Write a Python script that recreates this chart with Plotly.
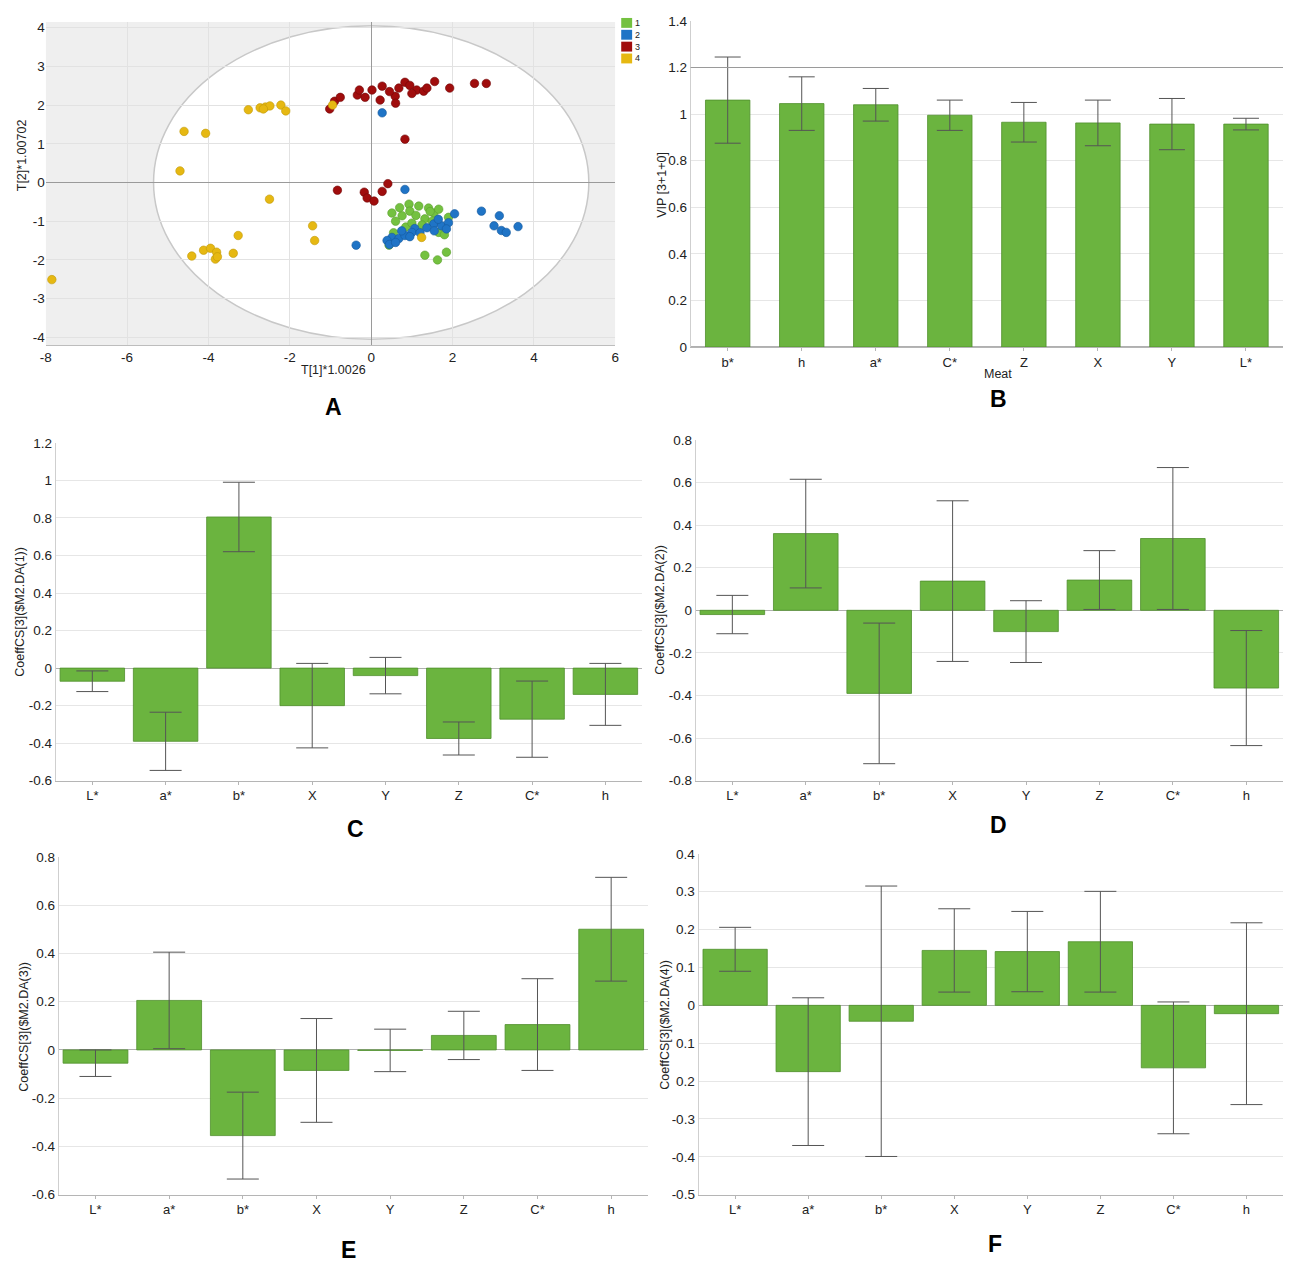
import plotly.graph_objects as go

W, H = 1295, 1271
OFF = 8            # browser body margin
FW, FH = W - 2 * OFF, H - 2 * OFF

# ---------------- Panel A data (score scatter) ----------------
g1_x = [0.51, 0.93, 0.95, 0.76, 1.41, 1.54, 1.66, 1.32, 1.17, 1.66, 1.32, 1.63, 1.85, 0.44, 0.6, 1.1, 1.25, 0.85, 1.5, 1.9, 1.8, 0.55, 0.7, 1.0, 1.45]
g1_y = [-0.79, -0.56, -0.74, -0.86, -0.66, -0.79, -0.69, -0.94, -0.61, -1.29, -1.88, -2.0, -1.8, -1.62, -1.0, -0.85, -1.1, -1.15, -1.0, -0.9, -1.35, -1.3, -0.65, -1.05, -0.75]
g2_x = [0.27, 0.83, -0.37, 0.51, 0.68, 0.83, 1.07, 1.54, 1.73, 1.9, 2.05, 2.71, 3.15, 3.02, 3.2, 3.32, 3.61, 0.39, 0.45, 1.0, 1.37, 0.6, 0.95, 1.2, 1.65, 1.85, 0.75, 1.55]
g2_y = [1.8, -0.18, -1.62, -1.42, -1.45, -1.37, -1.19, -1.07, -1.12, -1.04, -0.81, -0.74, -0.86, -1.12, -1.24, -1.29, -1.14, -1.5, -1.6, -1.29, -1.17, -1.55, -1.4, -1.3, -0.95, -1.2, -1.25, -1.25]
g3_x = [-1.02, -0.9, -0.76, -0.34, -0.29, 0.02, 0.27, 0.22, 0.59, 0.68, 0.83, 0.95, 1.12, 1.29, 1.37, 1.56, 1.93, 2.54, 2.83, 0.83, -0.83, -0.17, -0.1, 0.07, 0.27, 0.41, 0.6, 1.0, -0.15, 0.45]
g3_y = [1.9, 2.1, 2.2, 2.26, 2.39, 2.39, 2.49, 2.13, 2.23, 2.44, 2.59, 2.51, 2.39, 2.36, 2.44, 2.61, 2.44, 2.56, 2.56, 1.12, -0.2, -0.25, -0.4, -0.48, -0.23, -0.03, 2.05, 2.3, 2.2, 2.35]
g4_x = [-3.02, -2.73, -2.6, -2.49, -2.22, -2.1, -2.65, -4.6, -4.07, -4.7, -2.5, -1.44, -1.39, -3.27, -3.39, -4.41, -4.12, -3.95, -3.8, -3.83, -3.78, -7.85, -0.95, 1.24]
g4_y = [1.88, 1.93, 1.95, 1.98, 2.0, 1.85, 1.9, 1.32, 1.27, 0.3, -0.43, -1.12, -1.5, -1.37, -1.83, -1.9, -1.75, -1.7, -1.8, -1.98, -1.92, -2.51, 2.0, -1.42]
group_names = ["1", "2", "3", "4"]
ellipse_a, ellipse_b = 5.35, 4.05

# ---------------- Panel B data (VIP) ----------------
vip_cats = ["b*", "h", "a*", "C*", "Z", "X", "Y", "L*"]
vip_vals = [1.06, 1.045, 1.04, 0.995, 0.965, 0.962, 0.957, 0.957]
vip_err = [0.185, 0.115, 0.07, 0.065, 0.085, 0.098, 0.11, 0.025]

# ---------------- Panels C-F data (coefficients) ----------------
coef_cats = ["L*", "a*", "b*", "X", "Y", "Z", "C*", "h"]
c_vals = [-0.07, -0.39, 0.805, -0.2, -0.04, -0.375, -0.272, -0.14]
c_err = [0.055, 0.155, 0.185, 0.225, 0.097, 0.088, 0.203, 0.165]
d_vals = [-0.02, 0.36, -0.39, 0.137, -0.1, 0.142, 0.337, -0.365]
d_err = [0.09, 0.255, 0.33, 0.377, 0.145, 0.138, 0.333, 0.27]
e_vals = [-0.055, 0.205, -0.355, -0.085, -0.002, 0.06, 0.105, 0.5]
e_err = [0.055, 0.2, 0.18, 0.215, 0.088, 0.1, 0.19, 0.215]
f_vals = [0.148, -0.175, -0.042, 0.145, 0.142, 0.168, -0.165, -0.022]
f_err = [0.058, 0.195, 0.357, 0.11, 0.106, 0.133, 0.174, 0.24]

# tick labels
a_xticks = [-8, -6, -4, -2, 0, 2, 4, 6]
a_yticks = [-4, -3, -2, -1, 0, 1, 2, 3, 4]
b_yticks = [0, 0.2, 0.4, 0.6, 0.8, 1, 1.2, 1.4]
c_yticks = [-0.6, -0.4, -0.2, 0, 0.2, 0.4, 0.6, 0.8, 1, 1.2]
d_yticks = [-0.8, -0.6, -0.4, -0.2, 0, 0.2, 0.4, 0.6, 0.8]
e_yticks = [-0.6, -0.4, -0.2, 0, 0.2, 0.4, 0.6, 0.8]
f_yticks = [-0.5, -0.4, -0.3, -0.2, -0.1, 0, 0.1, 0.2, 0.3, 0.4]
f_yticktext = ["-0.5", "-0.4", "-0.3", "0.2", "0.1", "0", "0.1", "0.2", "0.3", "0.4"]

FONT = "Liberation Sans, Arial, sans-serif"
GREEN = "#6bb43f"
GREEN_EDGE = "#4f8f2c"
grp_colors = ["#74c140", "#1f74c6", "#a00d0d", "#e6b812"]
grp_edges = ["#5a9e2e", "#16599c", "#700808", "#c19a0c"]


def fx(p):
    return min(max((p - OFF) / FW, 0), 1)


def fy(p):
    return min(max(1 - (p - OFF) / FH, 0), 1)


def fmt(v):
    return "%g" % v


fig = go.Figure()

# Panel A scatter
for gx, gy, name, col, edge in zip([g1_x, g2_x, g3_x, g4_x], [g1_y, g2_y, g3_y, g4_y],
                                   group_names, grp_colors, grp_edges):
    fig.add_trace(go.Scatter(x=gx, y=gy, mode="markers", name=name, showlegend=False,
                             marker=dict(size=8.5, color=col, line=dict(color=edge, width=0.6)),
                             xaxis="x", yaxis="y"))

# Panel B bars
fig.add_trace(go.Bar(x=vip_cats, y=vip_vals, width=0.6, showlegend=False,
                     marker=dict(color=GREEN, line=dict(color=GREEN_EDGE, width=0.8)),
                     error_y=dict(type="data", array=vip_err, color="#555555", thickness=1, width=13),
                     xaxis="x2", yaxis="y2"))

panel_sets = [(c_vals, c_err, "x3", "y3"), (d_vals, d_err, "x4", "y4"),
              (e_vals, e_err, "x5", "y5"), (f_vals, f_err, "x6", "y6")]
for vals, errs, xa, ya in panel_sets:
    fig.add_trace(go.Bar(x=coef_cats, y=vals, width=0.88, showlegend=False,
                         marker=dict(color=GREEN, line=dict(color=GREEN_EDGE, width=0.8)),
                         error_y=dict(type="data", array=errs, color="#555555", thickness=1, width=16),
                         xaxis=xa, yaxis=ya))

tickfont = dict(family=FONT, size=13.5, color="#222222")
xtickfont = dict(family=FONT, size=13, color="#222222")

layout = dict(
    width=FW, height=FH, margin=dict(l=0, r=0, t=0, b=0),
    paper_bgcolor="white", plot_bgcolor="white",
    font=dict(family=FONT, size=12, color="#222222"),
    bargap=0.12,
)

# Panel A axes
layout["xaxis"] = dict(domain=[fx(40), fx(614)], range=[-8, 6], anchor="y",
                       tickvals=a_xticks, ticktext=[fmt(v) for v in a_xticks], tickfont=tickfont,
                       showgrid=True, gridcolor="#e2e2e2", zeroline=True, zerolinecolor="#9a9a9a",
                       zerolinewidth=1, showline=True, linecolor="#bdbdbd", ticks="")
layout["yaxis"] = dict(domain=[fy(342), fy(15)], range=[-4.2, 4.15], anchor="x",
                       tickvals=a_yticks, ticktext=[fmt(v) for v in a_yticks], tickfont=tickfont,
                       showgrid=True, gridcolor="#e2e2e2", zeroline=True, zerolinecolor="#9a9a9a",
                       zerolinewidth=1, showline=False, ticks="")


def bar_axes(n, xd, ytop_px, ybot_px, rng, yt, ytt):
    xa = "xaxis%d" % n
    ya = "yaxis%d" % n
    layout[xa] = dict(domain=[fx(xd[0]), fx(xd[1])], anchor="y%d" % n, tickfont=xtickfont,
                      showline=True, linecolor="#b5b5b5", ticks="outside", ticklen=3,
                      tickcolor="#b5b5b5", showgrid=False, type="category")
    layout[ya] = dict(domain=[fy(ybot_px), fy(ytop_px)], anchor="x%d" % n, range=rng,
                      tickvals=yt, ticktext=ytt, tickfont=tickfont, showgrid=True,
                      gridcolor="#e6e6e6", zeroline=True, zerolinecolor="#b0b0b0", zerolinewidth=1,
                      showline=True, linecolor="#cfcfcf", ticks="")


bar_axes(2, (690, 1290), 14, 344, [0, 1.4], b_yticks, [fmt(v) for v in b_yticks])
bar_axes(3, (50, 641), 441, 783, [-0.6, 1.2], c_yticks, [fmt(v) for v in c_yticks])
bar_axes(4, (695, 1289), 438, 783, [-0.8, 0.8], d_yticks, [fmt(v) for v in d_yticks])
bar_axes(5, (53, 647), 860, 1202, [-0.6, 0.8], e_yticks, [fmt(v) for v in e_yticks])
bar_axes(6, (698, 1293), 857, 1202, [-0.5, 0.4], f_yticks, f_yticktext)

fig.update_layout(**layout)

# Panel A: grey background and white Hotelling ellipse
fig.add_shape(type="rect", xref="x", yref="y", x0=-8, x1=6, y0=-4.2, y1=4.15,
              fillcolor="#efefef", line=dict(width=0), layer="below")
fig.add_shape(type="circle", xref="x", yref="y", x0=-ellipse_a, x1=ellipse_a,
              y0=-ellipse_b, y1=ellipse_b, fillcolor="white",
              line=dict(color="#c8c8c8", width=1.5), layer="below")

# Panel B darker line at 1.2
fig.add_shape(type="line", xref="x2 domain", yref="y2", x0=0, x1=1, y0=1.2, y1=1.2,
              line=dict(color="#9a9a9a", width=1))

# Legend for panel A (squares + labels)
for i, (name, col) in enumerate(zip(group_names, grp_colors)):
    y0 = 11 + i * 12
    fig.add_shape(type="rect", xref="paper", yref="paper", x0=fx(620), x1=fx(631),
                  y0=fy(y0 + 10), y1=fy(y0), fillcolor=col, line=dict(width=0))
    fig.add_annotation(xref="paper", yref="paper", x=fx(632), y=fy(y0 + 5), text=name,
                       showarrow=False, xanchor="left", yanchor="middle",
                       font=dict(family=FONT, size=9, color="#222222"))

# Axis titles
titles = [
    ("T[1]*1.0026", 330, 367, 0),
    ("T[2]*1.00702", 16, 150, -90),
    ("Meat", 1000, 371, 0),
    ("VIP [3+1+0]", 661, 180, -90),
    ("CoeffCS[3]($M2.DA(1))", 14, 612, -90),
    ("CoeffCS[3]($M2.DA(2))", 659, 610, -90),
    ("CoeffCS[3]($M2.DA(3))", 18, 1032, -90),
    ("CoeffCS[3]($M2.DA(4))", 664, 1030, -90),
]
for txt, px, py, ang in titles:
    fig.add_annotation(xref="paper", yref="paper", x=fx(px), y=fy(py), text=txt,
                       showarrow=False, textangle=ang, xanchor="center", yanchor="middle",
                       font=dict(family=FONT, size=12.5, color="#222222"))

# Panel letters
letters = [("A", 330, 405), ("B", 1000, 397), ("C", 352, 832), ("D", 1000, 828),
           ("E", 345, 1258), ("F", 997, 1252)]
for txt, px, py in letters:
    fig.add_annotation(xref="paper", yref="paper", x=fx(px), y=fy(py), text="<b>%s</b>" % txt,
                       showarrow=False, xanchor="center", yanchor="middle",
                       font=dict(family=FONT, size=23, color="#000000"))

fig.write_html("out.html")
